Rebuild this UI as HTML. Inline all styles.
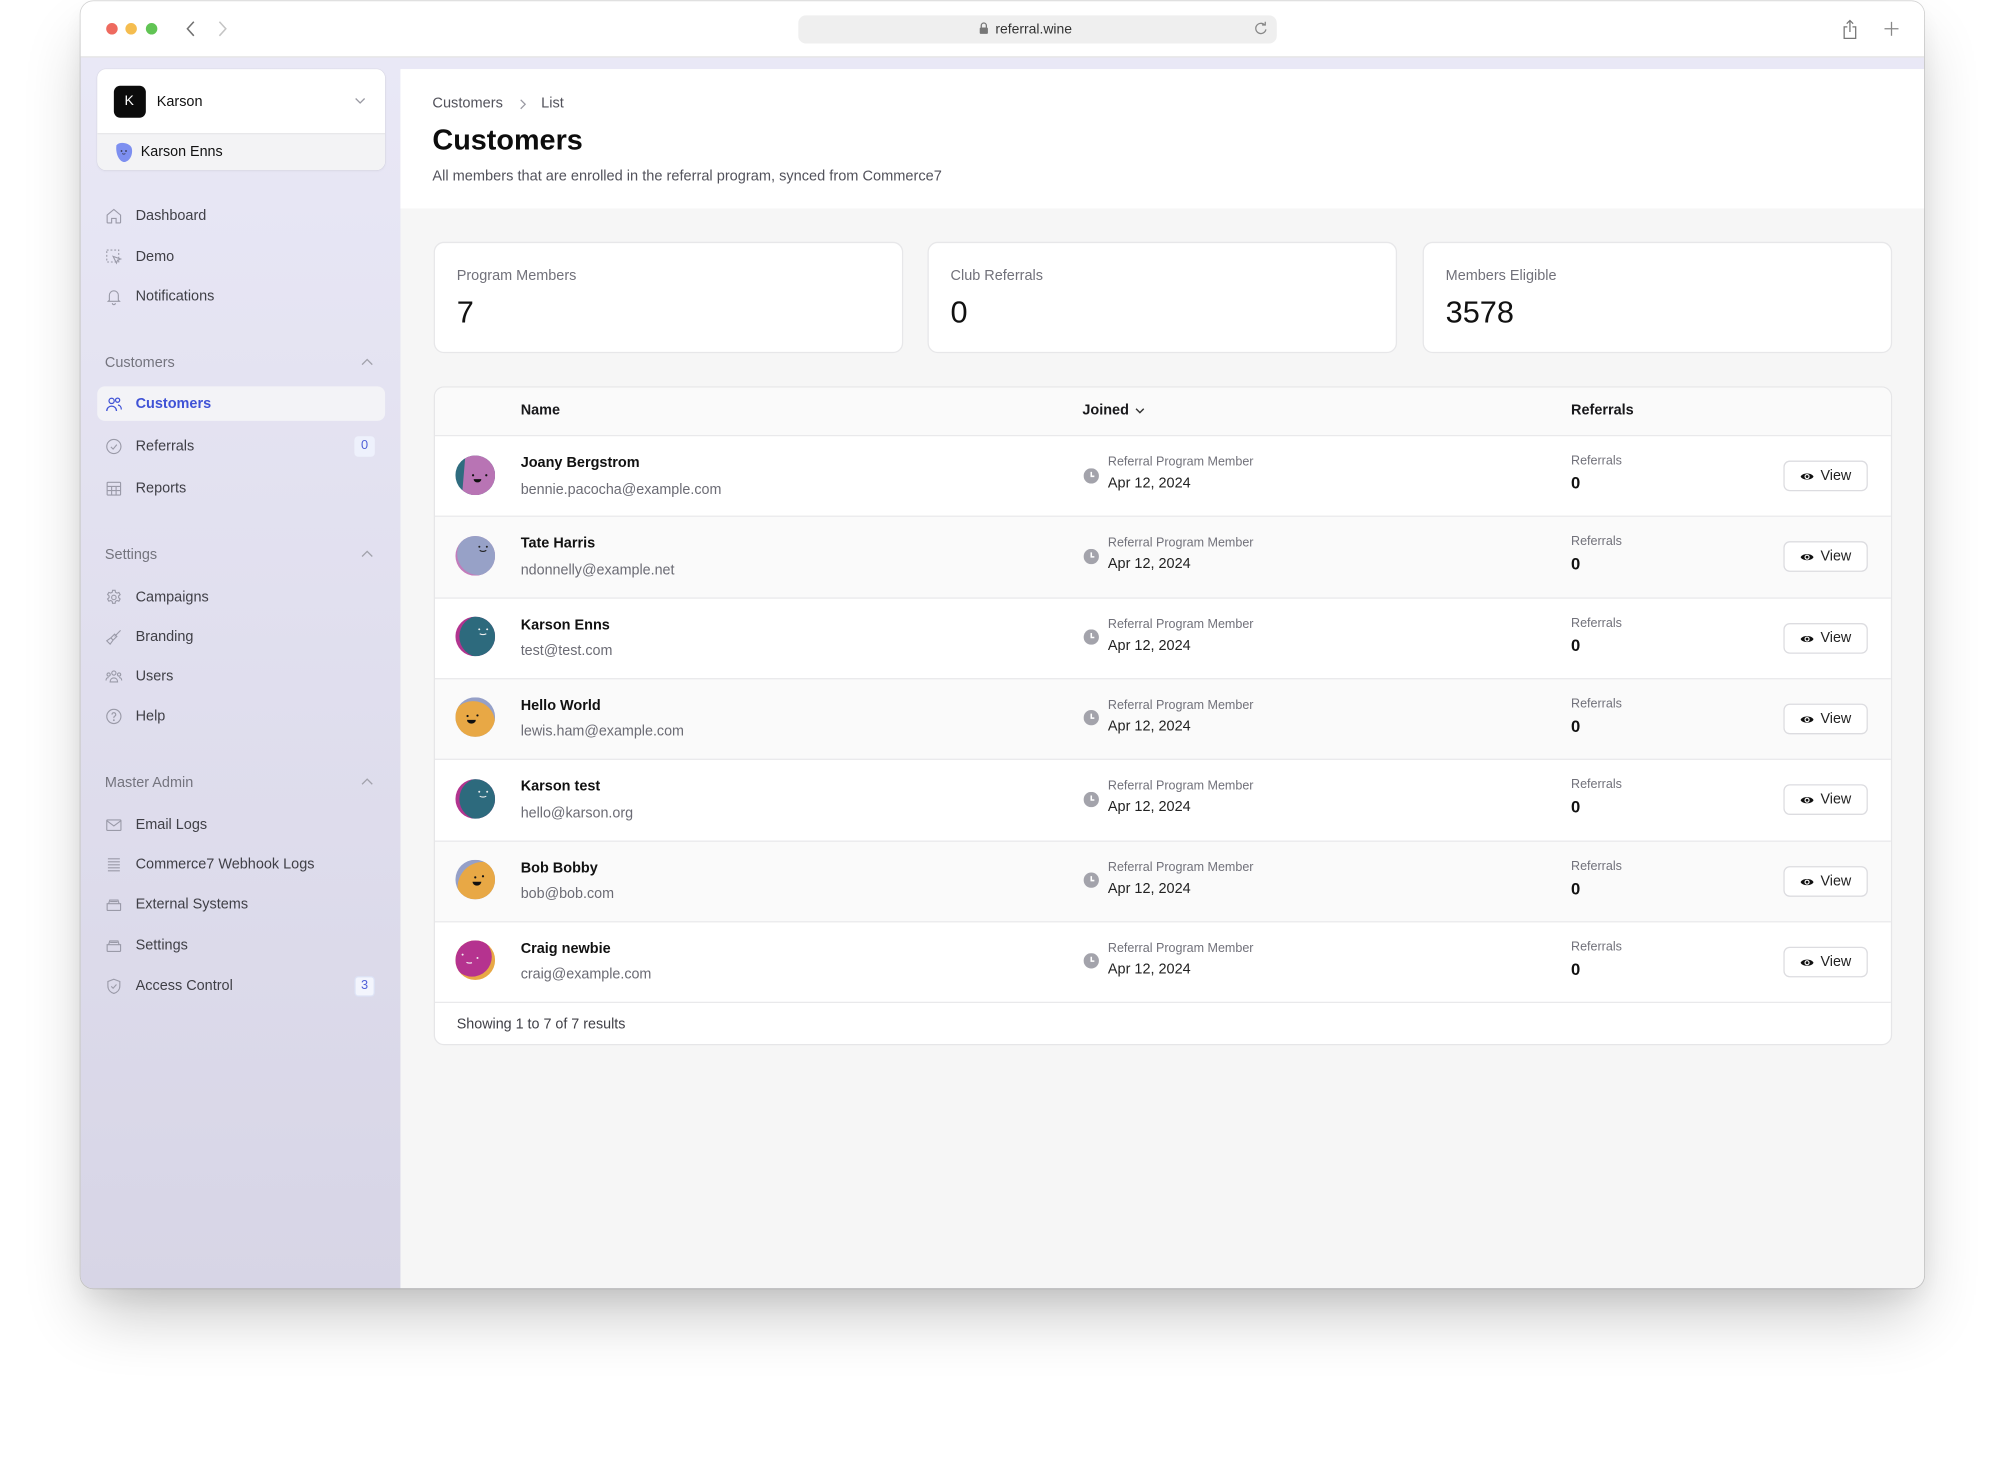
<!DOCTYPE html>
<html><head><meta charset="utf-8">
<style>
*{box-sizing:border-box;margin:0;padding:0}
html,body{width:2006px;height:1470px;overflow:hidden;background:#fff;font-family:"Liberation Sans",Arial,sans-serif}
#s{position:absolute;left:0;top:0;width:1568px;height:1149px;transform:scale(1.27934);transform-origin:0 0}
.a{position:absolute}
.t{position:absolute;white-space:nowrap;line-height:20px;height:20px}
.win{position:absolute;left:63px;top:1px;width:1441px;height:1006px;border-radius:10px;overflow:hidden;background:#fff;box-shadow:0 0 0 .7px rgba(0,0,0,.17),0 26px 50px -8px rgba(0,0,0,.24),0 8px 20px rgba(0,0,0,.06)}
.tb{position:absolute;left:0;top:0;width:1441px;height:44px;background:#fff;border-bottom:1px solid #e2e2e2}
.dot{position:absolute;top:17px;width:9px;height:9px;border-radius:50%}
.bod{position:absolute;left:0;top:44px;width:1441px;height:962px;background:linear-gradient(#e9e8f6,#d7d5e6)}
.sb{position:absolute;left:0;top:1px;width:250px;height:1000px}
.ni{font-size:11.3px;color:#3f3f46}
.ic{position:absolute;left:19px;width:14px;height:14px}
.sec{font-size:11.3px;color:#74747e}
.badge{position:absolute;left:214px;width:16px;height:16px;border-radius:3px;background:#eef1fc;color:#5060d8;font-size:10px;line-height:16px;text-align:center}
.main{position:absolute;left:250px;top:53px;width:1191px;height:953px;background:#f6f6f6}
.hdr{position:absolute;left:0;top:0;width:1191px;height:109px;background:#fff}
.card{position:absolute;top:135px;width:367px;height:87px;background:#fff;border:1px solid #e7e7e9;border-radius:8px}
.lab{font-size:11.3px;color:#71717a}
.val{font-size:24px;color:#111;line-height:30px;height:30px}
.tbl{position:absolute;left:25.5px;top:248px;width:1140.5px;height:515px;background:#fff;border:1px solid #e6e6e8;border-radius:8px;overflow:hidden}
.th{position:absolute;left:0;top:0;width:1140px;height:37px;background:#fafafa}
.row{position:absolute;left:0;width:1140px;height:63.3px;border-top:1px solid #e9e9eb}
.av{position:absolute;left:16.5px;top:14.5px;width:31px;height:31px;border-radius:50%;overflow:hidden}
.nm{left:67.5px;top:11px;font-size:11.3px;font-weight:bold;color:#111}
.em{left:67.5px;top:31.5px;font-size:11.2px;color:#6b6b74}
.clk{position:absolute;left:507.5px;top:24.5px;width:12px;height:12px}
.rl{left:526.5px;top:11px;font-size:9.8px;color:#71717a}
.dt{left:526.5px;top:27px;font-size:11.3px;color:#222}
.rfl{left:888.5px;top:10px;font-size:9.8px;color:#71717a}
.rfv{left:888.5px;top:27px;font-size:13px;font-weight:bold;color:#111}
.btn{position:absolute;left:1054.5px;top:19px;width:66px;height:24px;border:1px solid #dcdce0;border-radius:5px;background:#fff}
.btn svg{position:absolute;left:12px;top:6px}
.btn span{position:absolute;left:28px;top:0;line-height:22px;font-size:11.2px;color:#222}
.alt{background:#fafafa}
</style></head><body>
<div id="s">
<div class="win">
  <div class="tb">
    <div class="dot" style="left:19.5px;background:#ee6a5f"></div>
    <div class="dot" style="left:34.5px;background:#f5bd4f"></div>
    <div class="dot" style="left:50.5px;background:#61c454"></div>
    <svg class="a" style="left:82px;top:15px" width="8" height="13" viewBox="0 0 8 13"><path d="M6.5 1 1.5 6.5 6.5 12" fill="none" stroke="#707070" stroke-width="1.2"/></svg>
    <svg class="a" style="left:107px;top:15px" width="8" height="13" viewBox="0 0 8 13"><path d="M1.5 1 6.5 6.5 1.5 12" fill="none" stroke="#c4c4c4" stroke-width="1.2"/></svg>
    <div class="a" style="left:561px;top:10.5px;width:374px;height:22px;border-radius:6px;background:#efefef"></div>
    <svg class="a" style="left:702px;top:16px" width="8" height="10" viewBox="0 0 8 10"><path d="M2 4.5V3a2 2 0 0 1 4 0v1.5" fill="none" stroke="#777" stroke-width="1"/><rect x="0.8" y="4.5" width="6.4" height="5" rx="1" fill="#777"/></svg>
    <div class="t" style="left:715px;top:12px;font-size:10.9px;color:#333">referral.wine</div>
    <svg class="a" style="left:917px;top:15px" width="11" height="12" viewBox="0 0 11 12"><path d="M8.5 3.5A4 4 0 1 0 9.5 7" fill="none" stroke="#888" stroke-width="1"/><path d="M6.5 3.5h2.5V1" fill="none" stroke="#888" stroke-width="1"/></svg>
    <svg class="a" style="left:1377px;top:14px" width="12" height="16" viewBox="0 0 12 16"><path d="M4 6H1.5v9h9V6H8" fill="none" stroke="#777" stroke-width="1"/><path d="M6 10V1M3.5 3.5 6 1l2.5 2.5" fill="none" stroke="#777" stroke-width="1"/></svg>
    <svg class="a" style="left:1410px;top:16px" width="11" height="11" viewBox="0 0 11 11"><path d="M5.5 0v11M0 5.5h11" stroke="#888" stroke-width="1"/></svg>
  </div>
  <div class="bod"></div>

  <!-- org card -->
  <div class="a" style="left:13px;top:53px;width:225px;height:79px;border-radius:7px;overflow:hidden;background:#fff;box-shadow:0 0 0 .5px rgba(0,0,0,.05),0 1px 2px rgba(0,0,0,.04)">
    <div class="a" style="left:0;top:50px;width:225px;height:29px;background:#f3f3f5;border-top:1px solid #e7e7ea"></div>
    <div class="a" style="left:12.5px;top:12.5px;width:25px;height:25px;border-radius:5px;background:#0b0b0b;color:#fff;font-size:11px;line-height:25px;text-align:center">K</div>
    <div class="t" style="left:46.5px;top:16px;font-size:11.3px;color:#111">Karson</div>
    <svg class="a" style="left:201px;top:22px" width="9" height="6" viewBox="0 0 9 6"><path d="M1 1l3.5 3.5L8 1" fill="none" stroke="#9a9aa3" stroke-width="1"/></svg>
    <svg class="a" style="left:13px;top:57px" width="15" height="16" viewBox="0 0 15 16"><path d="M2 2.5C5-1 13 1 14 5s-1 9.5-5 10.5S1 10 2 2.5z" fill="#7d8ff0"/><circle cx="6" cy="7" r=".7" fill="#334"/><circle cx="9.5" cy="7" r=".7" fill="#334"/><path d="M6.5 9q1.3 1 2.5 0" fill="none" stroke="#334" stroke-width=".6"/></svg>
    <div class="t" style="left:34px;top:55px;font-size:11.2px;color:#111">Karson Enns</div>
  </div>

  <!-- nav -->
  <div class="sb">
  <svg class="ic" style="top:160px" viewBox="0 0 24 24" fill="none" stroke="#9a9aa8" stroke-width="1.5"><path d="M3 10.5 12 3l9 7.5V20a1 1 0 0 1-1 1h-5v-6h-6v6H4a1 1 0 0 1-1-1z"/></svg>
  <div class="t ni" style="left:43px;top:157px">Dashboard</div>
  <svg class="ic" style="top:192px" viewBox="0 0 24 24" fill="none" stroke="#9a9aa8" stroke-width="1.5"><rect x="2.5" y="2.5" width="16" height="16" stroke-dasharray="2.5 2.5"/><path d="M11 11l10 3.5-4 1.5-1.5 4z" fill="#e6e5f3"/></svg>
  <div class="t ni" style="left:43px;top:189px">Demo</div>
  <svg class="ic" style="top:223px" viewBox="0 0 24 24" fill="none" stroke="#9a9aa8" stroke-width="1.5"><path d="M6 16.5V10a6 6 0 0 1 12 0v6.5l1.5 1.5h-15z"/><path d="M10 20.5a2 2 0 0 0 4 0"/></svg>
  <div class="t ni" style="left:43px;top:220px">Notifications</div>

  <div class="t sec" style="left:19px;top:272px">Customers</div>
  <svg class="a" style="left:219px;top:278px" width="10" height="6" viewBox="0 0 10 6"><path d="M1 5l4-4 4 4" fill="none" stroke="#a2a2ac" stroke-width="1"/></svg>
  <div class="a" style="left:13px;top:300px;width:225px;height:27px;border-radius:6px;background:#f3f3f7"></div>
  <svg class="ic" style="top:307px" viewBox="0 0 24 24" fill="none" stroke="#4053d6" stroke-width="1.7"><circle cx="9" cy="7.5" r="3.5"/><path d="M2.5 21c0-4 3-6.5 6.5-6.5s6.5 2.5 6.5 6.5"/><circle cx="17" cy="6.5" r="2.8"/><path d="M17.5 13c2.6.3 4.5 2.5 4.5 6"/></svg>
  <div class="t" style="left:43px;top:304px;font-size:11.3px;font-weight:bold;color:#3f52d6">Customers</div>
  <svg class="ic" style="top:340px" viewBox="0 0 24 24" fill="none" stroke="#9a9aa8" stroke-width="1.5"><circle cx="12" cy="12" r="9.5"/><path d="M8 12.5l3 3 5-6"/></svg>
  <div class="t ni" style="left:43px;top:337px">Referrals</div>
  <div class="badge" style="top:339px">0</div>
  <svg class="ic" style="top:373px" viewBox="0 0 24 24" fill="none" stroke="#9a9aa8" stroke-width="1.5"><rect x="3" y="3.5" width="18" height="17" rx="1"/><path d="M3 9h18M3 14.5h18M9 9v11.5M15 9v11.5"/></svg>
  <div class="t ni" style="left:43px;top:370px">Reports</div>

  <div class="t sec" style="left:19px;top:422px">Settings</div>
  <svg class="a" style="left:219px;top:428px" width="10" height="6" viewBox="0 0 10 6"><path d="M1 5l4-4 4 4" fill="none" stroke="#a2a2ac" stroke-width="1"/></svg>
  <svg class="ic" style="top:458px" viewBox="0 0 24 24" fill="none" stroke="#9a9aa8" stroke-width="1.5"><circle cx="12" cy="12" r="3"/><path d="M10.3 2.5h3.4l.5 2.6 2 1.1 2.5-.9 1.7 2.9-2 1.8v2.3l2 1.7-1.7 3-2.5-.9-2 1.1-.5 2.6h-3.4l-.5-2.6-2-1.1-2.5.9-1.7-3 2-1.7V9.9l-2-1.8L5.3 5.2l2.5.9 2-1.1z"/></svg>
  <div class="t ni" style="left:43px;top:455px">Campaigns</div>
  <svg class="ic" style="top:489px" viewBox="0 0 24 24" fill="none" stroke="#9a9aa8" stroke-width="1.5"><path d="M21 3l-8 8M13 8l3 3-5 5-3-3zM8 13l-5.5 4 4.5 4.5 4-5.5"/></svg>
  <div class="t ni" style="left:43px;top:486px">Branding</div>
  <svg class="ic" style="top:520px" viewBox="0 0 24 24" fill="none" stroke="#9a9aa8" stroke-width="1.5"><circle cx="12" cy="7" r="2.8"/><circle cx="5" cy="9" r="2.2"/><circle cx="19" cy="9" r="2.2"/><path d="M7 19c0-3.5 2.2-5.5 5-5.5s5 2 5 5.5zM1.5 17c0-2.5 1.5-4 3.5-4M22.5 17c0-2.5-1.5-4-3.5-4"/></svg>
  <div class="t ni" style="left:43px;top:517px">Users</div>
  <svg class="ic" style="top:551px" viewBox="0 0 24 24" fill="none" stroke="#9a9aa8" stroke-width="1.5"><circle cx="12" cy="12" r="9.5"/><path d="M9.5 9.5a2.5 2.5 0 1 1 3.5 2.3c-.7.4-1 .9-1 1.7v.8"/><circle cx="12" cy="17" r=".5" fill="#9a9aa8"/></svg>
  <div class="t ni" style="left:43px;top:548px">Help</div>

  <div class="t sec" style="left:19px;top:600px">Master Admin</div>
  <svg class="a" style="left:219px;top:606px" width="10" height="6" viewBox="0 0 10 6"><path d="M1 5l4-4 4 4" fill="none" stroke="#a2a2ac" stroke-width="1"/></svg>
  <svg class="ic" style="top:636px" viewBox="0 0 24 24" fill="none" stroke="#9a9aa8" stroke-width="1.5"><rect x="2.5" y="5" width="19" height="14" rx="1"/><path d="M2.5 6l9.5 7 9.5-7"/></svg>
  <div class="t ni" style="left:43px;top:633px">Email Logs</div>
  <svg class="ic" style="top:667px" viewBox="0 0 24 24" fill="none" stroke="#9a9aa8" stroke-width="1.5"><path d="M4 4h16M4 8h16M4 12h16M4 16h16M4 20h16"/></svg>
  <div class="t ni" style="left:43px;top:664px">Commerce7 Webhook Logs</div>
  <svg class="ic" style="top:698px" viewBox="0 0 24 24" fill="none" stroke="#9a9aa8" stroke-width="1.5"><path d="M3 11h18v8a1 1 0 0 1-1 1H4a1 1 0 0 1-1-1zM5 11l1.5-5h11L19 11M7 8h10"/></svg>
  <div class="t ni" style="left:43px;top:695px">External Systems</div>
  <svg class="ic" style="top:730px" viewBox="0 0 24 24" fill="none" stroke="#9a9aa8" stroke-width="1.5"><path d="M3 11h18v8a1 1 0 0 1-1 1H4a1 1 0 0 1-1-1zM5 11l1.5-5h11L19 11M7 8h10"/></svg>
  <div class="t ni" style="left:43px;top:727px">Settings</div>
  <svg class="ic" style="top:762px" viewBox="0 0 24 24" fill="none" stroke="#9a9aa8" stroke-width="1.5"><path d="M12 2.5l8 3v6c0 5-3.5 8.5-8 10-4.5-1.5-8-5-8-10v-6z"/><path d="M8.5 12l2.5 2.5 4.5-5"/></svg>
  <div class="t ni" style="left:43px;top:759px">Access Control</div>
  <div class="badge" style="top:761px;background:#f3f5fd;border:1px solid #dde3f6;line-height:14px">3</div>
  </div>

  <!-- main -->
  <div class="main">
    <div class="hdr">
      <div class="t" style="left:25px;top:17px;font-size:11.4px;color:#52525b">Customers</div>
      <svg class="a" style="left:93px;top:23px" width="6" height="9" viewBox="0 0 6 9"><path d="M1 1l3.5 3.5L1 8" fill="none" stroke="#9a9aa3" stroke-width="1"/></svg>
      <div class="t" style="left:110px;top:17px;font-size:11.4px;color:#52525b">List</div>
      <div class="t" style="left:25px;top:41px;font-size:22.5px;font-weight:bold;color:#0d0d0d;line-height:30px;height:30px">Customers</div>
      <div class="t" style="left:25px;top:74px;font-size:11.4px;color:#52525b">All members that are enrolled in the referral program, synced from Commerce7</div>
    </div>

    <div class="card" style="left:26px">
      <div class="t lab" style="left:17px;top:16px">Program Members</div>
      <div class="t val" style="left:17px;top:40px">7</div>
    </div>
    <div class="card" style="left:412px">
      <div class="t lab" style="left:17px;top:16px">Club Referrals</div>
      <div class="t val" style="left:17px;top:40px">0</div>
    </div>
    <div class="card" style="left:799px">
      <div class="t lab" style="left:17px;top:16px">Members Eligible</div>
      <div class="t val" style="left:17px;top:40px">3578</div>
    </div>

    <div class="tbl">
      <div class="th">
        <div class="t" style="left:67.5px;top:7.5px;font-size:11.3px;font-weight:bold;color:#18181b">Name</div>
        <div class="t" style="left:506.5px;top:7.5px;font-size:11.3px;font-weight:bold;color:#18181b">Joined</div>
        <svg class="a" style="left:547.5px;top:15px" width="8" height="6" viewBox="0 0 8 6"><path d="M1 1.5l3 3 3-3" fill="none" stroke="#333" stroke-width="1.1"/></svg>
        <div class="t" style="left:888.5px;top:7.5px;font-size:11.3px;font-weight:bold;color:#18181b">Referrals</div>
      </div>

      <!-- row 1 -->
      <div class="row" style="top:37px">
        <div class="av"><svg width="31" height="31" viewBox="0 0 36 36"><rect width="36" height="36" fill="#2f6c7f"/><path d="M9 0H36V36H6Z" fill="#b874b4"/><circle cx="16" cy="18" r="1" fill="#111"/><circle cx="28" cy="18" r="1" fill="#111"/><path d="M16.5 21.5h7a3.5 3 0 0 1-7 0z" fill="#111"/></svg></div>
        <div class="t nm">Joany Bergstrom</div>
        <div class="t em">bennie.pacocha@example.com</div>
        <svg class="clk" viewBox="0 0 12 12"><circle cx="6" cy="6" r="6" fill="#a3a3ab"/><path d="M6 2.8V6.3h2.4" fill="none" stroke="#fff" stroke-width="1.2"/></svg>
        <div class="t rl">Referral Program Member</div>
        <div class="t dt">Apr 12, 2024</div>
        <div class="t rfl">Referrals</div>
        <div class="t rfv">0</div>
        <div class="btn"><svg width="11" height="11" viewBox="0 0 12 12"><path d="M0.5 6C2 2.5 10 2.5 11.5 6 10 9.5 2 9.5 0.5 6z" fill="#111"/><circle cx="6" cy="6" r="2.2" fill="#fff"/><circle cx="6" cy="6" r="1.2" fill="#111"/></svg><span>View</span></div>
      </div>
      <!-- row 2 -->
      <div class="row alt" style="top:100.3px">
        <div class="av"><svg width="31" height="31" viewBox="0 0 36 36"><rect width="36" height="36" fill="#c27cbb"/><circle cx="21" cy="16" r="19.5" fill="#97a1c7"/><circle cx="21.7" cy="9.7" r=".9" fill="#222"/><circle cx="28.5" cy="9.7" r=".9" fill="#222"/><path d="M22 13q3 2 6 0" fill="none" stroke="#222" stroke-width="1"/></svg></div>
        <div class="t nm">Tate Harris</div>
        <div class="t em">ndonnelly@example.net</div>
        <svg class="clk" viewBox="0 0 12 12"><circle cx="6" cy="6" r="6" fill="#a3a3ab"/><path d="M6 2.8V6.3h2.4" fill="none" stroke="#fff" stroke-width="1.2"/></svg>
        <div class="t rl">Referral Program Member</div>
        <div class="t dt">Apr 12, 2024</div>
        <div class="t rfl">Referrals</div>
        <div class="t rfv">0</div>
        <div class="btn"><svg width="11" height="11" viewBox="0 0 12 12"><path d="M0.5 6C2 2.5 10 2.5 11.5 6 10 9.5 2 9.5 0.5 6z" fill="#111"/><circle cx="6" cy="6" r="2.2" fill="#fff"/><circle cx="6" cy="6" r="1.2" fill="#111"/></svg><span>View</span></div>
      </div>
      <!-- row 3 -->
      <div class="row" style="top:163.6px">
        <div class="av"><svg width="31" height="31" viewBox="0 0 36 36"><rect width="36" height="36" fill="#b2348f"/><circle cx="22.5" cy="18" r="19" fill="#2d6a7d"/><circle cx="21.6" cy="11.5" r=".9" fill="#eee"/><circle cx="28.8" cy="11.5" r=".9" fill="#eee"/><path d="M22 15.5q3 1.6 6 0" fill="none" stroke="#eee" stroke-width="1"/></svg></div>
        <div class="t nm">Karson Enns</div>
        <div class="t em">test@test.com</div>
        <svg class="clk" viewBox="0 0 12 12"><circle cx="6" cy="6" r="6" fill="#a3a3ab"/><path d="M6 2.8V6.3h2.4" fill="none" stroke="#fff" stroke-width="1.2"/></svg>
        <div class="t rl">Referral Program Member</div>
        <div class="t dt">Apr 12, 2024</div>
        <div class="t rfl">Referrals</div>
        <div class="t rfv">0</div>
        <div class="btn"><svg width="11" height="11" viewBox="0 0 12 12"><path d="M0.5 6C2 2.5 10 2.5 11.5 6 10 9.5 2 9.5 0.5 6z" fill="#111"/><circle cx="6" cy="6" r="2.2" fill="#fff"/><circle cx="6" cy="6" r="1.2" fill="#111"/></svg><span>View</span></div>
      </div>
      <!-- row 4 -->
      <div class="row alt" style="top:226.9px">
        <div class="av"><svg width="31" height="31" viewBox="0 0 36 36"><rect width="36" height="36" fill="#95a0c8"/><circle cx="16" cy="23.5" r="20" fill="#e8a845"/><circle cx="11" cy="17" r="1" fill="#111"/><circle cx="20" cy="16.5" r="1" fill="#111"/><path d="M10.5 20.5h8a4 3.5 0 0 1-8 0z" fill="#111"/></svg></div>
        <div class="t nm">Hello World</div>
        <div class="t em">lewis.ham@example.com</div>
        <svg class="clk" viewBox="0 0 12 12"><circle cx="6" cy="6" r="6" fill="#a3a3ab"/><path d="M6 2.8V6.3h2.4" fill="none" stroke="#fff" stroke-width="1.2"/></svg>
        <div class="t rl">Referral Program Member</div>
        <div class="t dt">Apr 12, 2024</div>
        <div class="t rfl">Referrals</div>
        <div class="t rfv">0</div>
        <div class="btn"><svg width="11" height="11" viewBox="0 0 12 12"><path d="M0.5 6C2 2.5 10 2.5 11.5 6 10 9.5 2 9.5 0.5 6z" fill="#111"/><circle cx="6" cy="6" r="2.2" fill="#fff"/><circle cx="6" cy="6" r="1.2" fill="#111"/></svg><span>View</span></div>
      </div>
      <!-- row 5 -->
      <div class="row" style="top:290.2px">
        <div class="av"><svg width="31" height="31" viewBox="0 0 36 36"><rect width="36" height="36" fill="#b2348f"/><circle cx="22.5" cy="18" r="19" fill="#2d6a7d"/><circle cx="21.6" cy="11.5" r=".9" fill="#eee"/><circle cx="28.8" cy="11.5" r=".9" fill="#eee"/><path d="M22 15.5q3 1.6 6 0" fill="none" stroke="#eee" stroke-width="1"/></svg></div>
        <div class="t nm">Karson test</div>
        <div class="t em">hello@karson.org</div>
        <svg class="clk" viewBox="0 0 12 12"><circle cx="6" cy="6" r="6" fill="#a3a3ab"/><path d="M6 2.8V6.3h2.4" fill="none" stroke="#fff" stroke-width="1.2"/></svg>
        <div class="t rl">Referral Program Member</div>
        <div class="t dt">Apr 12, 2024</div>
        <div class="t rfl">Referrals</div>
        <div class="t rfv">0</div>
        <div class="btn"><svg width="11" height="11" viewBox="0 0 12 12"><path d="M0.5 6C2 2.5 10 2.5 11.5 6 10 9.5 2 9.5 0.5 6z" fill="#111"/><circle cx="6" cy="6" r="2.2" fill="#fff"/><circle cx="6" cy="6" r="1.2" fill="#111"/></svg><span>View</span></div>
      </div>
      <!-- row 6 -->
      <div class="row alt" style="top:353.5px">
        <div class="av"><svg width="31" height="31" viewBox="0 0 36 36"><rect width="36" height="36" fill="#95a0c8"/><circle cx="25" cy="25" r="23" fill="#e8a845"/><circle cx="18" cy="16" r="1" fill="#111"/><circle cx="25" cy="15" r="1" fill="#111"/><path d="M15.5 20h8a4 3.5 0 0 1-8 0z" fill="#111"/></svg></div>
        <div class="t nm">Bob Bobby</div>
        <div class="t em">bob@bob.com</div>
        <svg class="clk" viewBox="0 0 12 12"><circle cx="6" cy="6" r="6" fill="#a3a3ab"/><path d="M6 2.8V6.3h2.4" fill="none" stroke="#fff" stroke-width="1.2"/></svg>
        <div class="t rl">Referral Program Member</div>
        <div class="t dt">Apr 12, 2024</div>
        <div class="t rfl">Referrals</div>
        <div class="t rfv">0</div>
        <div class="btn"><svg width="11" height="11" viewBox="0 0 12 12"><path d="M0.5 6C2 2.5 10 2.5 11.5 6 10 9.5 2 9.5 0.5 6z" fill="#111"/><circle cx="6" cy="6" r="2.2" fill="#fff"/><circle cx="6" cy="6" r="1.2" fill="#111"/></svg><span>View</span></div>
      </div>
      <!-- row 7 -->
      <div class="row" style="top:416.8px">
        <div class="av"><svg width="31" height="31" viewBox="0 0 36 36"><rect width="36" height="36" fill="#e8a845"/><circle cx="15" cy="15" r="18" fill="#b5338f"/><circle cx="6.5" cy="13" r=".9" fill="#f3f3f3"/><circle cx="20" cy="16" r=".9" fill="#f3f3f3"/><path d="M10 20q2.5 1.2 5 .3" fill="none" stroke="#f3f3f3" stroke-width="1"/></svg></div>
        <div class="t nm">Craig newbie</div>
        <div class="t em">craig@example.com</div>
        <svg class="clk" viewBox="0 0 12 12"><circle cx="6" cy="6" r="6" fill="#a3a3ab"/><path d="M6 2.8V6.3h2.4" fill="none" stroke="#fff" stroke-width="1.2"/></svg>
        <div class="t rl">Referral Program Member</div>
        <div class="t dt">Apr 12, 2024</div>
        <div class="t rfl">Referrals</div>
        <div class="t rfv">0</div>
        <div class="btn"><svg width="11" height="11" viewBox="0 0 12 12"><path d="M0.5 6C2 2.5 10 2.5 11.5 6 10 9.5 2 9.5 0.5 6z" fill="#111"/><circle cx="6" cy="6" r="2.2" fill="#fff"/><circle cx="6" cy="6" r="1.2" fill="#111"/></svg><span>View</span></div>
      </div>
      <!-- footer -->
      <div class="row" style="top:480.1px;height:35px">
        <div class="t" style="left:17.5px;top:6.5px;font-size:11.2px;color:#3f3f46">Showing 1 to 7 of 7 results</div>
      </div>
    </div>
  </div>
</div>
</div>
</body></html>
